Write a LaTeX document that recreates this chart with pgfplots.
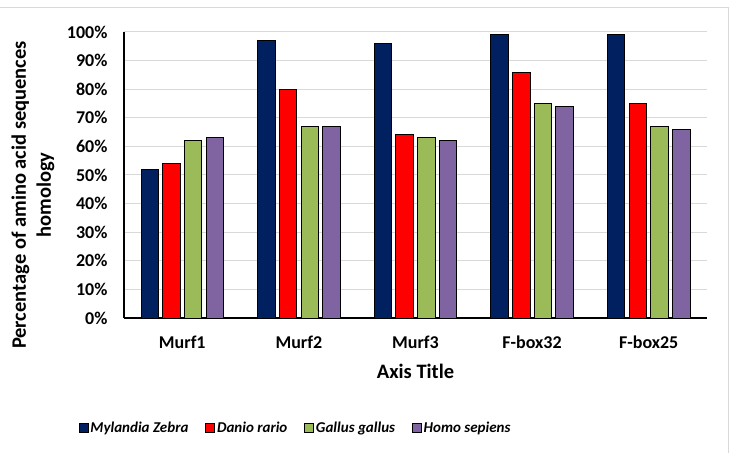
\documentclass[border=0pt]{standalone}
\usepackage{pgfplots}
\pgfplotsset{compat=1.18}
\usepackage{fontspec}
\setmainfont{Carlito}

\definecolor{cNavy}{HTML}{002060}
\definecolor{cRed}{HTML}{FF0000}
\definecolor{cGreen}{HTML}{9BBB59}
\definecolor{cPurple}{HTML}{8064A2}
\definecolor{cGrid}{HTML}{D9D9D9}

\begin{document}
\begin{tikzpicture}
\useasboundingbox (0pt,0pt) rectangle (730pt,452pt);
\draw[cGrid, line width=1pt] (-5pt,-5pt) rectangle (728.5pt,444pt);
\begin{axis}[
  at={(124pt,134pt)}, anchor=south west,
  scale only axis, width=583pt, height=286pt,
  ybar=4.2pt, bar width=17.5pt,
  xmin=-0.5, xmax=4.5, ymin=0, ymax=100,
  xtick={0,1,2,3,4},
  xticklabels={Murf1,Murf2,Murf3,F-box32,F-box25},
  ytick={0,10,...,100},
  yticklabel={\pgfmathprintnumber{\tick}\%},
  /pgf/number format/assume math mode=true,
  major tick length=0pt,
  axis x line*=bottom, axis y line*=left,
  axis line style={black, line width=1.5pt, -},
  ymajorgrids, grid style={cGrid, line width=1pt},
  tick label style={font=\fontsize{18}{20}\selectfont\bfseries},
  yticklabel style={xshift=-13pt},
  xticklabel style={yshift=-14pt},
  xlabel={Axis Title},
  xlabel style={font=\fontsize{20.5}{22}\selectfont\bfseries, yshift=-9pt},
  legend columns=4,
  legend style={at={(-0.083,-0.385)}, anchor=west, draw=none, fill=none,
    font=\fontsize{15}{17}\selectfont\bfseries\itshape,
    /tikz/every even column/.append style={column sep=15pt}},
  legend image code/.code={\draw[#1, draw=black, line width=0.6pt] (0pt,-4.5pt) rectangle (9pt,4.5pt);},
  every axis plot/.append style={draw=black, line width=1pt},
]
\addplot[fill=cNavy] coordinates {(0,52) (1,97) (2,96) (3,99) (4,99)};
\addplot[fill=cRed] coordinates {(0,54) (1,80) (2,64) (3,86) (4,75)};
\addplot[fill=cGreen] coordinates {(0,62) (1,67) (2,63) (3,75) (4,67)};
\addplot[fill=cPurple] coordinates {(0,63) (1,67) (2,62) (3,74) (4,66)};
\legend{Mylandia Zebra, Danio rario, Gallus gallus, Homo sepiens}
\end{axis}
\node[rotate=90, align=center, font=\fontsize{20.5}{25}\selectfont\bfseries] at (33pt,257pt)
  {Percentage of amino acid sequences\\homology};
\end{tikzpicture}
\end{document}
